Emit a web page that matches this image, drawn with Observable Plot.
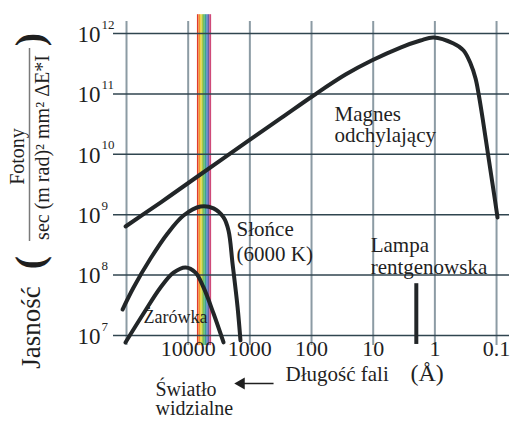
<!DOCTYPE html>
<html>
<head>
<meta charset="utf-8">
<script src="https://cdn.jsdelivr.net/npm/d3@7"></script>
<script src="https://cdn.jsdelivr.net/npm/@observablehq/plot@0.6"></script>
<style>
  html, body { margin: 0; padding: 0; background: white; }
</style>
</head>
<body>
<div id="chart"></div>
<script>
// ---- data (wavelength in Å, brightness in photons / ...) ----
const gridWavelengths = [100000, 10000, 1000, 100, 10, 1, 0.1];
const xTickValues = [10000, 1000, 100, 10, 1, 0.1];
const xTickLabels = ["10000", "1000", "100", "10", "1", "0.1"];
const yTickValues = [1e7, 1e8, 1e9, 1e10, 1e11, 1e12];
const yTickExponents = ["7", "8", "9", "10", "11", "12"];

// Magnes odchylający (bending magnet)
const magnesLambda = [103700, 28100, 7060, 1050, 318, 92.9, 28.1, 10.6, 3.61, 1.71, 1.05, 0.498, 0.343, 0.264, 0.219, 0.196, 0.169, 0.135, 0.112, 0.0964];
const magnesFlux   = [6.38e8, 1.59e9, 4.29e9, 1.69e10, 3.92e10, 9.42e10, 2.09e11, 3.57e11, 5.86e11, 7.66e11, 8.59e11, 6.82e11, 5.24e11, 3.18e11, 1.80e11, 1.02e11, 4.06e10, 8.85e9, 2.52e9, 9.0e8];

// Słońce (6000 K)
const sunLambda = [116000, 76900, 40800, 21600, 11900, 6310, 3880, 2670, 2220, 1910, 1580, 1420];
const sunFlux   = [2.69e7, 6.24e7, 1.88e8, 4.89e8, 9.70e8, 1.37e9, 1.27e9, 9.0e8, 5.47e8, 1.56e8, 2.91e7, 8.3e6];

// Żarówka (light bulb)
const bulbLambda = [104000, 53000, 28100, 17300, 11000, 7600, 5640, 3880, 2670];
const bulbFlux   = [7.66e6, 2.31e7, 6.24e7, 1.10e8, 1.34e8, 1.10e8, 6.24e7, 2.31e7, 7.66e6];

// Lampa rentgenowska (X-ray tube)
const lampLambda = [2.0];
const lampFluxTop = [7.2e7];
const lampFluxBottom = [7.1e6];

// visible light band
const visibleBounds = [7080, 6680, 6300, 5950, 5610, 5300, 5000, 4720, 4450, 4170];
const visibleColors = ["#e23b2e", "#f0962c", "#f3d23a", "#a9c944", "#56b05a", "#3ca58f", "#4a7ec0", "#6a5ea8", "#cf4a78"];
const bandFluxBottom = 6.8e6;
const bandFluxTop = 2.05e12;

// annotations (anchored at top-left of text, in data coordinates)
const labels = [
  {text: "Magnes\nodchylający", lambda: 42.4, flux: 6.2e10, size: 21, lh: 1.0},
  {text: "Słońce\n(6000 K)", lambda: 1640, flux: 8.65e8, size: 21, lh: 1.19},
  {text: "Lampa\nrentgenowska", lambda: 11.0, flux: 4.36e8, size: 21, lh: 1.05},
  {text: "Żarówka", lambda: 53000, flux: 2.59e7, size: 18, lh: 1.0}
];

// ---- build tables ----
const line = (ls, fs) => ls.map((l, i) => ({lambda: l, flux: fs[i]}));
const magnes = line(magnesLambda, magnesFlux);
const sun = line(sunLambda, sunFlux);
const bulb = line(bulbLambda, bulbFlux);
const stripes = visibleColors.map((c, i) => ({x1: visibleBounds[i], x2: visibleBounds[i + 1], color: c}));
const lamp = lampLambda.map((l, i) => ({lambda: l, top: lampFluxTop[i], bottom: lampFluxBottom[i]}));

const ink = "#1f1f1f";
const curveColor = "#222628";
const serif = "Liberation Serif";
const T = (o) => ({fontFamily: serif, fill: ink, ...o});

const plot = Plot.plot({
  width: 511,
  height: 423,
  marginLeft: 113,
  marginRight: 2,
  marginTop: 21,
  marginBottom: 78,
  x: {type: "log", domain: [10 ** 5.211, 10 ** -1.21], axis: null},
  y: {type: "log", domain: [10 ** 6.834, 10 ** 12.199], axis: null},
  style: {fontFamily: "Liberation Serif, serif", background: "white", color: ink},
  marks: [
    // visible band
    Plot.rect(stripes, {x1: "x1", x2: "x2", y1: bandFluxBottom, y2: bandFluxTop, fill: "color"}),
    // grid
    Plot.ruleX(gridWavelengths, {stroke: "#8c9ba4", strokeWidth: 2}),
    Plot.ruleY(yTickValues, {stroke: "#30454f", strokeWidth: 1.5}),
    // curves
    Plot.line(magnes, {x: "lambda", y: "flux", stroke: curveColor, strokeWidth: 4, curve: "catmull-rom"}),
    Plot.line(sun, {x: "lambda", y: "flux", stroke: curveColor, strokeWidth: 4, curve: "catmull-rom"}),
    Plot.line(bulb, {x: "lambda", y: "flux", stroke: curveColor, strokeWidth: 4, curve: "catmull-rom"}),
    Plot.ruleX(lamp, {x: "lambda", y1: "top", y2: "bottom", stroke: curveColor, strokeWidth: 4}),
    // annotations
    ...labels.map(d => Plot.text([d], T({x: "lambda", y: "flux", text: "text", textAnchor: "start", lineAnchor: "top", fontSize: d.size, lineHeight: d.lh}))),
    // y tick labels
    Plot.text(yTickValues, T({y: d => d, frameAnchor: "left", dx: -13, dy: 1, textAnchor: "end", text: () => "10", fontSize: 23})),
    Plot.text(yTickValues, T({y: d => d, frameAnchor: "left", dx: -12, dy: -9, textAnchor: "start", text: (d, i) => yTickExponents[i], fontSize: 13})),
    // x tick labels
    Plot.text(xTickValues, T({x: d => d, frameAnchor: "bottom", dy: 10, textAnchor: "middle", text: (d, i) => xTickLabels[i], fontSize: 22})),
    // x-axis title
    Plot.text(["Długość fali"], T({x: 264, frameAnchor: "bottom", dy: 35, textAnchor: "start", text: d => d, fontSize: 21})),
    Plot.text(["(Å)"], T({x: 2.48, frameAnchor: "bottom", dy: 35, textAnchor: "start", text: d => d, fontSize: 24})),
    Plot.link([0], {x1: 413, x2: 1450, y1: 1.6e6, y2: 1.6e6, stroke: ink, strokeWidth: 1.5}),
    Plot.dot([0], {x: 1380, y: 1.6e6, symbol: "triangle", r: 4.5, rotate: -90, fill: ink, stroke: "none"}),
    Plot.text(["Światło"], T({x: 33900, frameAnchor: "bottom", dy: 50, textAnchor: "start", text: d => d, fontSize: 20})),
    Plot.text(["widzialne"], T({x: 33900, frameAnchor: "bottom", dy: 69, textAnchor: "start", text: d => d, fontSize: 20})),
    // y-axis title
    Plot.text(["Jasność"], T({frameAnchor: "left", dx: -82.6, dy: 144, rotate: -90, textAnchor: "middle", text: d => d, fontSize: 27})),
    Plot.text(["("], T({frameAnchor: "left", dx: -83.8, dy: 79, rotate: -90, textAnchor: "middle", text: d => d, fontSize: 40, fontWeight: "bold"})),
    Plot.text([")"], T({frameAnchor: "left", dx: -83.8, dy: -144, rotate: -90, textAnchor: "middle", text: d => d, fontSize: 40, fontWeight: "bold"})),
    Plot.text(["Fotony"], T({frameAnchor: "left", dx: -96.4, dy: -27, rotate: -90, textAnchor: "middle", text: d => d, fontSize: 20})),
    Plot.text(["sec (m rad)² mm² ΔE*I"], T({frameAnchor: "left", dx: -71.4, dy: -36, rotate: -90, textAnchor: "middle", text: d => d, fontSize: 20})),
    Plot.ruleX([3.74e6], {y1: 5.65e11, y2: 3.6e8, stroke: "#7a7a7a", strokeWidth: 1.5})
  ]
});
document.getElementById("chart").append(plot);
</script>
</body>
</html>
